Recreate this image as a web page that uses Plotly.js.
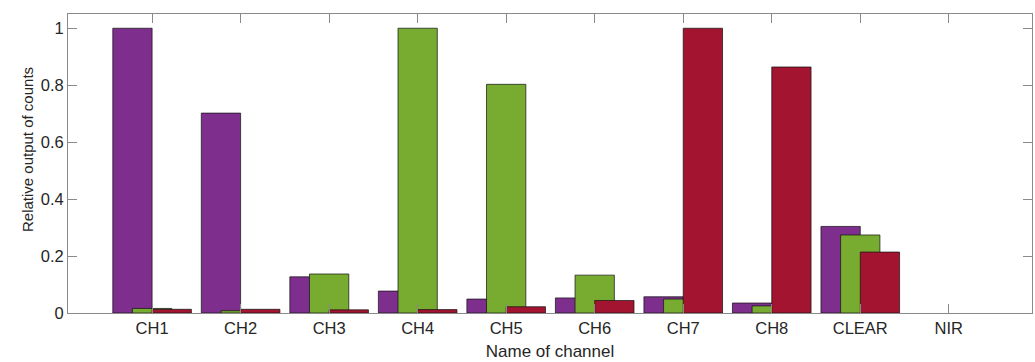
<!DOCTYPE html>
<html>
<head>
<meta charset="utf-8">
<script src="https://cdn.plot.ly/plotly-3.0.1.min.js"></script>
<style>html,body{margin:0;padding:0;background:#fff;}#chart{width:1035px;height:362px;}</style>
</head>
<body>
<div id="chart"></div>
<script>
const channels = ["CH1","CH2","CH3","CH4","CH5","CH6","CH7","CH8","CLEAR","NIR"];
const seriesPurple = [1.000, 0.702, 0.127, 0.077, 0.049, 0.053, 0.057, 0.035, 0.304, 0];
const seriesGreen  = [0.016, 0.008, 0.137, 1.000, 0.803, 0.133, 0.049, 0.025, 0.274, 0];
const seriesRed    = [0.013, 0.013, 0.011, 0.012, 0.022, 0.044, 1.000, 0.864, 0.214, 0];
const yTicks = [0, 0.2, 0.4, 0.6, 0.8, 1];
const yTickText = ["0", "0.2", "0.4", "0.6", "0.8", "1"];

const pos = channels.map((c, i) => i + 1);
const barW = 0.444;
function mk(vals, color, off) {
  return {
    type: 'bar', x: pos, y: vals, width: barW, offset: off,
    marker: {color: color, line: {color: 'rgba(20,20,20,0.9)', width: vals.map(v => v > 0 ? 0.8 : 0)}},
    hoverinfo: 'y', showlegend: false
  };
}
const traces = [
  mk(seriesPurple, '#7E2F8E', -barW),
  mk(seriesGreen, '#77AC30', -barW / 2),
  mk(seriesRed, '#A2142F', 0)
];
const axCol = '#8a8a8a';
const layout = {
  width: 1035, height: 362,
  margin: {l: 68, r: 3, t: 14, b: 49},
  paper_bgcolor: '#fff', plot_bgcolor: '#fff',
  barmode: 'overlay',
  font: {family: 'Liberation Sans, Arial, sans-serif', color: '#262626', size: 16},
  xaxis: {
    range: [0.05, 10.94], tickvals: pos, ticktext: channels,
    showgrid: false, zeroline: false, showline: true, linecolor: axCol, linewidth: 1,
    mirror: 'ticks', ticks: 'inside', ticklen: 9, tickcolor: axCol, tickwidth: 1,
    tickfont: {size: 16.5, color: '#262626'},
    title: {text: 'Name of channel', font: {size: 17, color: '#262626'}, standoff: 9}
  },
  yaxis: {
    range: [0, 1.05], tickvals: yTicks, ticktext: yTickText,
    showgrid: false, zeroline: false, showline: true, linecolor: axCol, linewidth: 1,
    mirror: 'ticks', ticks: 'inside', ticklen: 9, tickcolor: axCol, tickwidth: 1,
    tickfont: {size: 16.5, color: '#262626'}
  },
  annotations: [{
    text: 'Relative output of counts', textangle: -90,
    xref: 'paper', yref: 'paper', x: 0, y: 0.545, xanchor: 'center', yanchor: 'middle',
    xshift: -41, showarrow: false, font: {size: 15, color: '#262626'}
  }]
};
Plotly.newPlot('chart', traces, layout, {displayModeBar: false, staticPlot: true});
</script>
</body>
</html>
